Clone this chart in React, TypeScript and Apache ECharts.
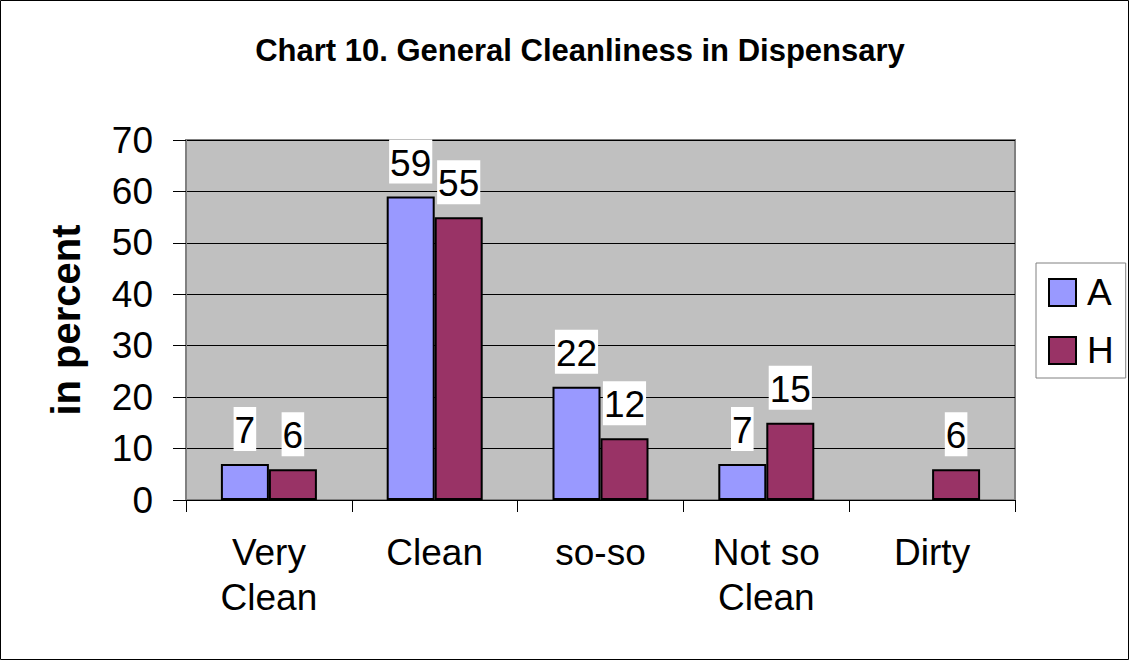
import React, { useEffect, useRef } from "react";
import * as echarts from "echarts";

const categories = ["Very\nClean", "Clean", "so-so", "Not so\nClean", "Dirty"];
const seriesA = [7, 59, 22, 7, null];
const seriesH = [6, 55, 12, 15, 6];
const yTicks = { min: 0, max: 70, interval: 10 };
const titleText = "Chart 10. General Cleanliness in Dispensary";
const yName = "in percent";

const FONT = "Liberation Sans, Arial, sans-serif";

export default function App() {
  const ref = useRef<HTMLDivElement>(null);
  useEffect(() => {
    if (!ref.current) return;
    const chart = echarts.init(ref.current, null, { renderer: "svg" });
    const label = {
      show: true,
      position: "top",
      distance: 13,
      fontSize: 37,
      fontFamily: FONT,
      color: "#000",
      backgroundColor: "#fff",
      padding: [5, 1, 2, 1],
    };
    chart.setOption({
      animation: false,
      backgroundColor: "#fff",
      textStyle: { fontFamily: FONT },
      title: {
        text: titleText,
        left: 575,
        top: 30,
        textAlign: "center",
        textStyle: { fontSize: 31, fontWeight: "bold", color: "#000", fontFamily: FONT },
      },
      graphic: [
        {
          type: "rect",
          shape: { x: 0.5, y: 0.5, width: 1128, height: 659 },
          style: { fill: "none", stroke: "#000", lineWidth: 1 },
          silent: true,
        },
      ],
      legend: {
        orient: "vertical",
        left: 1036,
        top: 263,
        padding: [11, 12, 9, 12],
        itemGap: 21,
        itemWidth: 27,
        itemHeight: 27,
        icon: "rect",
        backgroundColor: "#fff",
        borderColor: "#808080",
        borderWidth: 1,
        textStyle: { fontSize: 37, color: "#000", fontFamily: FONT, padding: [0, 0, 0, 6] },
        data: ["A", "H"],
      },
      grid: {
        left: 186,
        top: 140,
        width: 829,
        height: 360,
        show: true,
        backgroundColor: "#C0C0C0",
        borderColor: "#808080",
        borderWidth: 2,
        containLabel: false,
      },
      xAxis: {
        type: "category",
        data: categories,
        axisLine: { show: true, lineStyle: { color: "#000", width: 1 } },
        axisTick: { show: true, length: 12, lineStyle: { color: "#000" } },
        axisLabel: {
          fontSize: 37,
          lineHeight: 45,
          margin: 30,
          color: "#000",
          fontFamily: FONT,
          interval: 0,
        },
      },
      yAxis: {
        type: "value",
        min: yTicks.min,
        max: yTicks.max,
        interval: yTicks.interval,
        name: yName,
        nameLocation: "middle",
        nameRotate: 90,
        nameGap: 100,
        nameTextStyle: { fontSize: 40, fontWeight: "bold", color: "#000", fontFamily: FONT },
        axisLine: { show: true, lineStyle: { color: "#808080", width: 2 } },
        axisTick: { show: true, length: 13, lineStyle: { color: "#000" } },
        axisLabel: { fontSize: 37, margin: 33, color: "#000", fontFamily: FONT },
        splitLine: { show: true, lineStyle: { color: "#000", width: 1 } },
      },
      series: [
        {
          name: "A",
          type: "bar",
          data: seriesA,
          barWidth: 48,
          barGap: "0%",
          itemStyle: { color: "#9999FF", borderColor: "#000", borderWidth: 2 },
          label,
        },
        {
          name: "H",
          type: "bar",
          data: seriesH,
          barWidth: 48,
          barGap: "0%",
          itemStyle: { color: "#993366", borderColor: "#000", borderWidth: 2 },
          label,
        },
      ],
    });
    return () => chart.dispose();
  }, []);
  return (
    <div
      ref={ref}
      style={{ position: "absolute", left: 0, top: 0, width: 1130, height: 661 }}
    />
  );
}
